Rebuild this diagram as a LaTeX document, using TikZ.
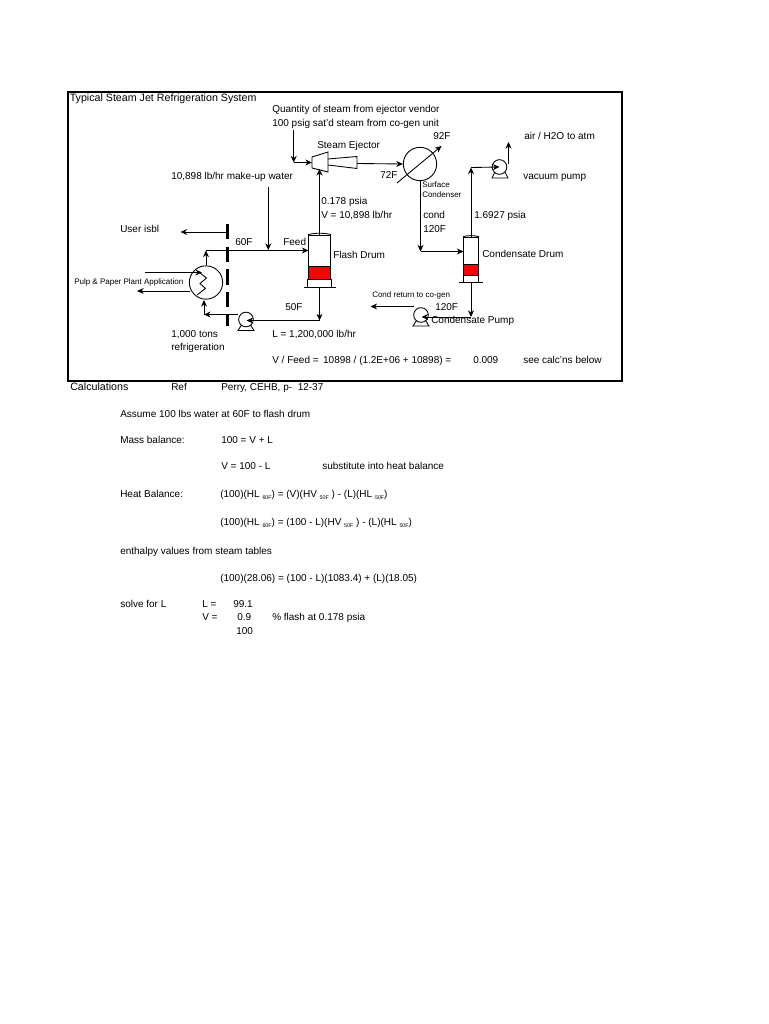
\documentclass[tikz,border=0pt]{standalone}
\usepackage{fontspec}
\setmainfont{Liberation Sans}
\usetikzlibrary{positioning,arrows.meta,calc}
\newcommand{\subsc}[1]{\raisebox{-1.5pt}{\fontsize{4}{4.5}\selectfont #1}}

\begin{document}
\begin{tikzpicture}[
  x=0.75pt, y=-0.75pt,
  lbl/.style={anchor=west, inner sep=0pt, text height=5.4pt, text depth=0pt, font=\fontsize{7.5}{9}\selectfont},
  biglbl/.style={lbl, font=\fontsize{8}{9.6}\selectfont},
  tiny/.style={anchor=west, inner sep=0pt, text height=4.2pt, text depth=0pt, font=\fontsize{6}{7}\selectfont},
  pipe/.style={line width=0.65pt},
  arrow/.style={pipe, -{Stealth[length=5pt,width=4.5pt]}},
  drum/.style={draw, line width=0.65pt, minimum width=16.5pt, inner sep=0pt},
  pumpcirc/.style={circle, draw, line width=0.65pt, minimum size=11pt, inner sep=0pt},
  hx/.style={circle, draw, line width=0.65pt, minimum size=25pt, inner sep=0pt}
]
\useasboundingbox (0,0) rectangle (768,1024);
\node[draw, line width=1.5pt, minimum width=416pt, minimum height=217pt, inner sep=0pt] (frame) at (345,236.5) {};

% flash drum
\fill[red] (308.5,266) rectangle (330.5,279);
\node[drum, minimum width=16.8pt, minimum height=33pt] (flash) at (319.5,257) {};
\draw[pipe] (308.5,266) -- (330.5,266);
\draw[pipe] (flash.south west) -- ++(0,8) (flash.south east) -- ++(0,8);
\draw[pipe] (flash.north west) to[bend left=12] (flash.north east);
\coordinate (flashbase) at (319.5,287);
\draw[pipe] ($(flashbase)+(-16,0)$) -- ($(flashbase)+(16,0)$);

% condensate drum
\fill[red] (463.5,264) rectangle (478.5,275);
\node[drum, minimum width=11.2pt, minimum height=28.5pt] (cdrum) at (471,256) {};
\draw[pipe] (463.5,264) -- (478.5,264);
\draw[pipe] (cdrum.south west) -- ++(0,7) (cdrum.south east) -- ++(0,7);
\draw[pipe] (cdrum.north west) to[bend left=12] (cdrum.north east);
\coordinate (cdrumbase) at (471,282);
\draw[pipe] ($(cdrumbase)+(-12,0)$) -- ($(cdrumbase)+(12,0)$);

% ejector
\draw[pipe] (312,157) -- (328,152) -- (328,172) -- (312,168) -- cycle;
\draw[pipe] (328,159) -- (357,156.5) -- (357,168.5) -- (328,165);
\coordinate (ejin) at (312,162.5);
\coordinate (ejbottom) at (319.5,169);
\coordinate (ejout) at (357,163.5);

% condenser
\node[hx] (cond) at (420,164) {};
\coordinate (condtail) at (397,183);
\coordinate (condhead) at (441.5,146);
\draw[arrow] (condtail) -- (condhead);

% vacuum pump
\node[pumpcirc] (vacp) at (499.5,167) {};
\draw[pipe] ($(vacp)+(-4.5,5)$) -- ($(vacp)+(-7.5,11)$) -- ($(vacp)+(8.5,11)$) -- ($(vacp)+(5.5,5)$);

% condensate pump
\node[pumpcirc] (condp) at (421,315) {};
\draw[pipe] ($(condp)+(-4.5,5.5)$) -- ($(condp)+(-8,11)$) -- ($(condp)+(8,11)$) -- ($(condp)+(4.5,5.5)$);

% feed pump
\node[pumpcirc] (feedp) at (246,319.5) {};
\draw[pipe] ($(feedp)+(-4.5,5.5)$) -- ($(feedp)+(-8,11)$) -- ($(feedp)+(8,11)$) -- ($(feedp)+(4.5,5.5)$);

% exchanger
\node[hx] (exch) at (206,282.5) {};
\draw[pipe] (198,271.5) -- (206.5,278) -- (200,283.5) -- (205.5,288.5) -- (197,295);

% battery limit
\coordinate (limittop) at (227.5,224);
\coordinate (limitbot) at (227.5,326);
\draw[line width=2.3pt, dash pattern=on 11.5pt off 5.5pt] (limittop) -- (limitbot);

% steam to ejector
\coordinate (steamtop) at (293.7,130);
\coordinate (steambend) at (293.7,162.5);
\draw[arrow] (steamtop) -- (steambend);
\draw[arrow] (steambend) -- (ejin);
\draw[arrow] (flash.north) -- (ejbottom);
\draw[arrow] (ejout) -- (cond.west);

% condensate line
\coordinate (condbot) at (420.5,180.5);
\coordinate (condbend) at (420.5,251.5);
\coordinate (cdrumin) at (463.5,251.5);
\draw[arrow] (condbot) -- (condbend);
\draw[arrow] (condbend) -- (cdrumin);

% vacuum line
\coordinate (vacbend) at (471,167.5);
\coordinate (vacstart) at (508.5,164);
\coordinate (vacup) at (508.5,142);
\draw[arrow] (cdrum.north) -- (vacbend);
\draw[arrow] (vacbend) -- (vacp.center);
\draw[arrow] (vacstart) -- (vacup);

% condensate return
\coordinate (retbend) at (471,317);
\coordinate (retpump) at (421.5,317);
\coordinate (retout) at (370.5,306.5);
\coordinate (retstart) at (414,306.5);
\draw[arrow] (cdrumbase) -- (retbend);
\draw[arrow] (retbend) -- (retpump);
\draw[arrow] (retstart) -- (retout);

% feed loop
\coordinate (feedbot) at (319.5,320.5);
\coordinate (feedpin) at (246.5,320.5);
\coordinate (feedpout) at (238,314.5);
\coordinate (loopbend) at (204,314.5);
\coordinate (loopup) at (204,300);
\coordinate (exchout) at (206,250.5);
\coordinate (flashin) at (308.5,250.5);
\draw[arrow] (flashbase) -- (feedbot);
\draw[arrow] (feedbot) -- (feedpin);
\draw[arrow] (feedpout) -- (loopbend);
\draw[arrow] (loopbend) -- (loopup);
\draw[arrow] (exch.north) -- (exchout);
\draw[arrow] (exchout) -- (flashin);

% make-up, user, application
\coordinate (makeup) at (268.3,187);
\coordinate (makeupin) at (268.3,250);
\coordinate (userstart) at (227.5,232);
\coordinate (userend) at (180.5,232);
\coordinate (appin) at (145,272.5);
\coordinate (appinend) at (202,272.5);
\coordinate (appout) at (190,291);
\coordinate (appoutend) at (137,291);
\draw[arrow] (makeup) -- (makeupin);
\draw[arrow] (userstart) -- (userend);
\draw[arrow] (appin) -- (appinend);
\draw[arrow] (appout) -- (appoutend);

\node[biglbl] (title) at (69.5,97.5) {Typical Steam Jet Refrigeration System};
\node[lbl] (vendor) at (272,109) {Quantity of steam from ejector vendor};
\node[lbl] (psig) at (272,123) {100 psig sat'd steam from co-gen unit};
\node[lbl] (ejlabel) at (317,145) {Steam Ejector};
\node[lbl] (t92) at (433,136) {92F};
\node[lbl] (atm) at (524,136) {air / H2O to atm};
\node[lbl] (vaclabel) at (523,176) {vacuum pump};
\node[lbl] (t72) at (380,175) {72F};
\node[lbl] (muwater) at (171,176) {10,898 lb/hr make-up water};
\node[lbl] (vpsia) at (321,201) {0.178 psia};
\node[lbl] (vflow) at (321,215) {V = 10,898 lb/hr};
\node[tiny] (surf) at (422,185) {Surface};
\node[tiny] (condlabel) at (422,194.5) {Condenser};
\node[lbl] (condt) at (423,215) {cond};
\node[lbl] (t120a) at (423,229) {120F};
\node[lbl] (psia2) at (474,215) {1.6927 psia};
\node[lbl] (user) at (120,229) {User isbl};
\node[lbl] (t60) at (235,242) {60F};
\node[lbl] (feed) at (283,242) {Feed};
\node[lbl] (flashlabel) at (333,255) {Flash Drum};
\node[lbl] (cdrumlabel) at (482,254) {Condensate Drum};
\node[tiny] (pulp) at (74,281.5) {Pulp \& Paper Plant Application};
\node[lbl] (t50) at (285,307) {50F};
\node[tiny] (cret) at (372,295) {Cond return to co-gen};
\node[lbl] (t120b) at (435,307) {120F};
\node[lbl] (cplabel) at (431,320) {Condensate Pump};
\node[lbl] (tons) at (171,334) {1,000 tons};
\node[lbl] (refrig) at (171,347) {refrigeration};
\node[lbl] (lflow) at (272,334) {L = 1,200,000 lb/hr};
\node[lbl] (vfeed) at (272,360) {V / Feed =\, 10898 / (1.2E+06 + 10898) =};
\node[lbl] (ratio) at (473,360) {0.009};
\node[lbl] (seecalc) at (523,360) {see calc'ns below};

\node[biglbl] (calc) at (70,387) {Calculations};
\node[lbl] (ref) at (171,387) {Ref};
\node[lbl] (perry) at (221,387) {Perry, CEHB, p- \ 12-37};
\node[lbl] (assume) at (120,414) {Assume 100 lbs water at 60F to flash drum};
\node[lbl] (mass) at (120,440) {Mass balance:};
\node[lbl] (masseq) at (221,440) {100 = V + L};
\node[lbl] (veq) at (221,466) {V = 100 - L};
\node[lbl] (subst) at (322,466) {substitute into heat balance};
\node[lbl] (heat) at (120,494) {Heat Balance:};
\node[lbl] (heateq) at (220,494) {(100)(HL\;\subsc{60F}) = (V)(HV\;\subsc{50F}\;) - (L)(HL\;\subsc{50F})};
\node[lbl] (heateqb) at (220,522) {(100)(HL\;\subsc{60F}) = (100 - L)(HV\;\subsc{50F}\;) - (L)(HL\;\subsc{50F})};
\node[lbl] (enth) at (120,551) {enthalpy values from steam tables};
\node[lbl] (numeq) at (220,578) {(100)(28.06) = (100 - L)(1083.4) + (L)(18.05)};
\node[lbl] (solve) at (120,604) {solve for L};
\node[lbl] (leq) at (202,604) {L =};
\node[lbl] (lval) at (233,604) {99.1};
\node[lbl] (veqb) at (202,617) {V =};
\node[lbl] (vval) at (237,617) {0.9};
\node[lbl] (pct) at (272,617) {\% flash at 0.178 psia};
\node[lbl] (total) at (236,631) {100};
\end{tikzpicture}
\end{document}
